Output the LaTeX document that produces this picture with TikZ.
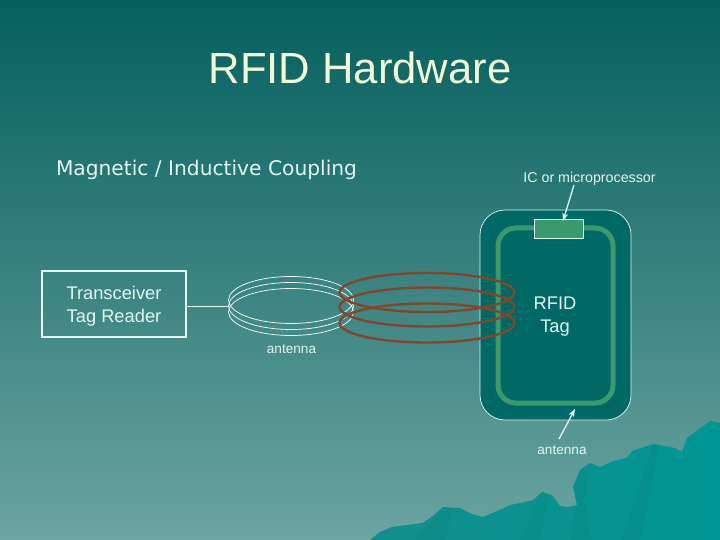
\documentclass[tikz,border=0pt]{standalone}
\usepackage{fontspec}
\setmainfont{Liberation Sans}
\newfontfamily\widefont{DejaVu Sans}
\usetikzlibrary{arrows.meta,shapes.geometric}
\definecolor{slidetop}{HTML}{04605E}
\definecolor{slidebottom}{HTML}{6CA4A1}
\definecolor{tagfill}{HTML}{006865}
\definecolor{coilgreen}{HTML}{3A9A6E}
\definecolor{coilbrown}{HTML}{84462A}
\definecolor{paleline}{HTML}{E2F6F2}
\definecolor{titlecol}{HTML}{F2F8D8}
\definecolor{peakdark}{HTML}{128E8C}
\definecolor{peaklight}{HTML}{009693}
\definecolor{peakshade}{HTML}{0A8482}
\tikzset{
    x=1pt, y=-1pt,
    readercoil/.style={draw=white, line width=0.7pt, ellipse, minimum width=125pt, minimum height=47pt, inner sep=0pt, outer sep=0pt},
    tagcoil/.style={draw=coilbrown, line width=2.4pt, ellipse, minimum width=175pt, minimum height=39pt, inner sep=0pt, outer sep=0pt},
    smalltext/.style={text=paleline, inner sep=0pt, font=\fontsize{13.6}{16}\selectfont, align=center},
    boxtext/.style={text=paleline, inner sep=0pt, font=\fontsize{18.3}{23}\selectfont, align=center},
    pointer/.style={draw=paleline, line width=1.3pt, -{Stealth[length=8pt,width=6pt]}},
    peakface/.style={fill=peakshade, opacity=0.25}
}
\begin{document}
\begin{tikzpicture}
    \useasboundingbox (0,0) rectangle (720,540);
    % Draw the background
    \shade[top color=slidetop, bottom color=slidebottom] (0,0) rectangle (720,540);
    \shade[left color=peakdark, right color=peaklight] (370,540) -- (380,532) -- (392,527) -- (423,523) -- (435,514) -- (443,507) -- (460,508) -- (472,514) -- (483,517) -- (497,511) -- (510,505) -- (525,502) -- (533,500) -- (542,492) -- (552,495) -- (560,506) -- (568,507) -- (577,505) -- (573,487) -- (580,470) -- (590,463) -- (600,467) -- (613,461) -- (627,458) -- (632,451) -- (653,444) -- (675,448) -- (682,452) -- (687,438) -- (710,421) -- (720,423) -- (720,540) -- cycle;
    % Draw the ridges
    \fill[peakface] (443,507) -- (452,508) -- (446,540) -- (415,540) -- cycle;
    \fill[peakface] (542,492) -- (548,494) -- (540,540) -- (520,540) -- cycle;
    \fill[peakface] (577,505) -- (573,487) -- (580,470) -- (590,463) -- (584,500) -- (592,540) -- (570,540) -- cycle;
    \fill[peakface] (653,444) -- (660,445) -- (640,540) -- (622,540) -- cycle;

    % Draw the titles
    \node[text=titlecol, inner sep=0pt, font=\fontsize{43.6}{48}\selectfont] (title) at (360,68) {RFID Hardware};
    \node[text=paleline, inner sep=0pt, font=\widefont\fontsize{20.2}{24}\selectfont] (coupling) at (206.5,170) {Magnetic / Inductive Coupling};

    % Draw the tag
    \node[draw=paleline, fill=tagfill, line width=0.7pt, rounded corners=25pt, minimum width=151pt, minimum height=210pt, inner sep=0pt, outer sep=0pt] (tag) at (555.5,315) {};
    \node[draw=coilgreen, line width=5pt, rounded corners=18pt, minimum width=115pt, minimum height=175pt, inner sep=0pt, outer sep=0pt] (tagantenna) at (555.5,315.5) {};
    \node[draw=paleline, fill=coilgreen, line width=0.7pt, minimum width=49pt, minimum height=19pt, inner sep=0pt, outer sep=0pt] (chip) at (558.5,228.5) {};
    \node[boxtext] (taglabel) at (555,317) {RFID\\Tag};

    % Draw the reader
    \node[draw=paleline, line width=2pt, minimum width=144pt, minimum height=66pt, inner sep=0pt, outer sep=0pt] (reader) at (114,304) {};
    \node[boxtext] (readerlabel) at (114,306) {Transceiver\\Tag Reader};

    % Draw the coils
    \node[readercoil] (coilA) at (291,300) {};
    \node[readercoil] (coilB) at (291,306) {};
    \node[readercoil] (coilC) at (291,312) {};
    \node[tagcoil] (ringA) at (427,292.5) {};
    \node[tagcoil] (ringB) at (427,307) {};
    \node[tagcoil] (ringC) at (427,323) {};
    \draw[draw=paleline, line width=0.8pt] (reader.east |- coilB.west) -- (coilB.west);

    % Draw the labels and arrows
    \node[smalltext] (readerantenna) at (291.5,349) {antenna};
    \node[smalltext, font=\fontsize{14.25}{16}\selectfont] (iclabel) at (589.5,178.5) {IC or microprocessor};
    \node[smalltext] (antennalabel) at (562,450) {antenna};
    \coordinate (icfoot) at (574,185);
    \coordinate (ictip) at (563,221);
    \coordinate (antennafoot) at (559,439);
    \coordinate (antennatip) at (575,409);
    \draw[pointer] (icfoot) -- (ictip);
    \draw[pointer] (antennafoot) -- (antennatip);
\end{tikzpicture}
\end{document}
